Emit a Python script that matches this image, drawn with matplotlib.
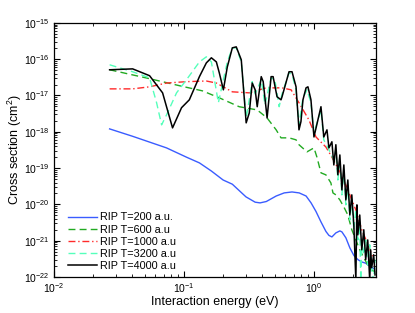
import matplotlib
matplotlib.use("Agg")
import matplotlib.pyplot as plt
from matplotlib.ticker import FixedLocator, LogLocator, NullFormatter

plt.rcParams['font.family'] = ['Liberation Sans', 'DejaVu Sans']
plt.rcParams['mathtext.fontset'] = 'custom'
plt.rcParams['mathtext.rm'] = 'Liberation Sans'
plt.rcParams['mathtext.it'] = 'Liberation Sans:italic'
plt.rcParams['mathtext.bf'] = 'Liberation Sans:bold'

# T = 200 a.u.
x200 = [0.0268, 0.0403, 0.0734, 0.1045, 0.1315, 0.1625, 0.200, 0.2355, 0.300, 0.353,
        0.385, 0.430, 0.512, 0.590, 0.678, 0.770, 0.870, 0.950, 1.036, 1.132, 1.236,
        1.303, 1.374, 1.474, 1.582, 1.640, 1.760, 1.890, 2.030, 2.180, 2.330, 2.500,
        2.690, 2.880]
y200 = [1.2e-18, 7.5e-19, 3.6e-19, 2.0e-19, 1.39e-19, 8.3e-20, 4.7e-20, 3.6e-20, 1.61e-20, 1.15e-20,
        1.1e-20, 1.2e-20, 1.7e-20, 2.07e-20, 2.2e-20, 2.07e-20, 1.7e-20, 1.1e-20, 6.4e-21, 3.3e-21, 1.8e-21,
        1.4e-21, 1.27e-21, 1.64e-21, 1.86e-21, 1.75e-21, 1.2e-21, 6.3e-22, 3.9e-22, 3.0e-22, 2.6e-22, 2.4e-22,
        2.0e-22, 1.7e-22]

# T = 600 a.u.
x600 = [0.0268, 0.0544, 0.0958, 0.1387, 0.187, 0.266, 0.366, 0.436, 0.512, 0.558,
        0.643, 0.728, 0.767, 0.884, 1.000, 1.054, 1.132, 1.236, 1.350, 1.400, 1.474,
        1.582, 1.698, 1.822, 1.955, 2.100, 2.250, 2.417, 2.592, 2.780, 2.950]
y600 = [5.1e-17, 2.9e-17, 1.8e-17, 1.34e-17, 8.6e-18, 4.9e-18, 4.0e-18, 2.4e-18, 1.13e-18, 6.8e-19,
        6.8e-19, 6.0e-19, 4.4e-19, 2.8e-19, 3.6e-19, 2.0e-19, 7.4e-20, 6.5e-20, 3.9e-20, 2.07e-20, 1.83e-20,
        1.33e-20, 8.5e-21, 5.1e-21, 2.0e-21, 1.05e-21, 5.6e-22, 3.4e-22, 2.15e-22, 1.57e-22, 1.38e-22]

# T = 1000 a.u.
x1000 = [0.0268, 0.0403, 0.0544, 0.0734, 0.1045, 0.1487, 0.1775, 0.2355, 0.318, 0.428,
         0.568, 0.667, 0.767, 0.916, 1.036, 1.151, 1.236, 1.374, 1.555, 1.759, 1.888,
         2.100, 2.333, 2.640, 2.880]
y1000 = [1.52e-17, 1.52e-17, 1.73e-17, 2.2e-17, 2.4e-17, 2.5e-17, 2.2e-17, 1.26e-17, 1.18e-17, 1.62e-17,
         1.62e-17, 1.43e-17, 6.3e-18, 2.1e-18, 7.2e-19, 4.9e-19, 3.8e-19, 2.0e-19, 8.9e-20, 3.4e-20, 1.83e-20,
         7.0e-21, 2.0e-21, 6.8e-22, 3.0e-22]

# T = 3200 a.u.
x3200 = [0.0268, 0.0403, 0.0544, 0.0616, 0.0673, 0.0734, 0.0877, 0.1045, 0.1315, 0.1487,
         0.1625, 0.184, 0.201, 0.2155, 0.2355, 0.2525, 0.276, 0.301, 0.318, 0.335,
         0.353, 0.393, 0.420, 0.468, 0.500, 0.540, 0.568, 0.643, 0.678, 0.728,
         0.767, 0.823, 0.884, 0.948, 1.000, 1.132, 1.190, 1.303, 1.422, 1.474,
         1.527, 1.582, 1.640, 1.698, 1.759, 1.822, 1.888, 1.955, 2.026, 2.100,
         2.175, 2.250, 2.290, 2.333, 2.417, 2.500, 2.592, 2.685, 2.780, 2.880, 2.950]
y3200 = [7.0e-17, 4.5e-17, 3.05e-17, 6.3e-18, 1.55e-18, 2.9e-18, 1.18e-17, 2.7e-17, 8.4e-17, 1.16e-16,
         8.4e-17, 6.3e-18, 2.7e-17, 8.4e-17, 2.05e-16, 2.05e-16, 8.4e-17, 2.4e-18, 7.6e-18, 2.4e-17,
         1.1e-17, 2.7e-17, 5.5e-18, 3.05e-17, 2.7e-17, 4.9e-18, 1.1e-17, 4.2e-17, 3.8e-17, 1.43e-17,
         1.55e-18, 8.6e-18, 1.43e-17, 6.3e-18, 9.3e-19, 4.0e-18, 6.0e-19, 3.2e-19, 1.68e-19, 3.2e-19,
         4.7e-20, 1.68e-19, 1.83e-20, 8.9e-20, 9.7e-21, 3.4e-20, 3.7e-21, 1.33e-20, 2.0e-21, 7.0e-21,
         1.05e-21, 2.7e-21, 8.0e-23, 1.05e-21, 4.1e-22, 1.05e-21, 2.15e-22, 7.7e-22, 1.57e-22, 8.0e-23, 3.0e-22]

# T = 4000 a.u.
x4000 = [0.0268, 0.0403, 0.0544, 0.0685, 0.0817, 0.0958, 0.110, 0.1315, 0.1487, 0.1625,
         0.1775, 0.187, 0.201, 0.2155, 0.2355, 0.2525, 0.276, 0.301, 0.318, 0.335,
         0.353, 0.366, 0.393, 0.407, 0.436, 0.468, 0.485, 0.520, 0.558, 0.568,
         0.643, 0.678, 0.728, 0.767, 0.794, 0.823, 0.869, 0.899, 0.948, 1.000,
         1.132, 1.190, 1.259, 1.303, 1.374, 1.422, 1.474, 1.527, 1.582, 1.640,
         1.698, 1.759, 1.822, 1.888, 1.955, 2.026, 2.100, 2.140, 2.175, 2.250,
         2.333, 2.417, 2.500, 2.592, 2.685, 2.730, 2.780, 2.880, 2.950]
y4000 = [5.1e-17, 5.4e-17, 3.5e-17, 1.18e-17, 1.28e-18, 4.6e-18, 7.6e-18, 3.3e-17, 7.9e-17, 1.09e-16,
         8.4e-17, 4.2e-17, 1.43e-17, 6.1e-17, 2.05e-16, 2.18e-16, 9.6e-17, 1.76e-18, 3.3e-18, 2.2e-17,
         1.43e-17, 4.9e-18, 3.3e-17, 2.4e-17, 2.4e-18, 3.3e-17, 3.3e-17, 9.2e-18, 7.6e-18, 9.2e-18,
         4.5e-17, 4.5e-17, 1.73e-17, 1.13e-18, 1.9e-18, 7.6e-18, 1.62e-17, 1.73e-17, 7.6e-18, 7.2e-19,
         4.9e-18, 7.2e-19, 1.13e-18, 3.6e-19, 5.3e-19, 1.22e-19, 4.4e-19, 6.5e-20, 2.3e-19, 2.5e-20,
         1.22e-19, 1.33e-20, 4.7e-20, 5.1e-21, 1.83e-20, 2.7e-21, 8.0e-23, 9.7e-21, 1.45e-21, 5.1e-21,
         5.6e-22, 2.0e-21, 3.0e-22, 1.05e-21, 8.0e-23, 5.6e-22, 1.8e-22, 4.1e-22, 1.14e-22]

labels = ["RIP T=200 a.u.", "RIP T=600 a.u", "RIP T=1000 a.u", "RIP T=3200 a.u", "RIP T=4000 a.u"]
yticks = [1e-22, 1e-21, 1e-20, 1e-19, 1e-18, 1e-17, 1e-16, 1e-15]
xticks = [1e-2, 1e-1, 1e0]

fig = plt.figure(figsize=(4.15, 3.13), dpi=100)
ax = fig.add_axes([0.130, 0.115, 0.776, 0.812])

ax.plot(x200, y200, color="#3a5cff", lw=1.0, ls="-", label=labels[0])
ax.plot(x600, y600, color="#22aa22", lw=1.0, ls=(0, (5, 3)), label=labels[1])
ax.plot(x1000, y1000, color="#ff2a2a", lw=1.0, ls=(0, (5, 2, 1, 2)), label=labels[2])
ax.plot(x3200, y3200, color="#55ffbb", lw=1.0, ls=(0, (5, 3)), label=labels[3])
ax.plot(x4000, y4000, color="black", lw=1.1, ls="-", label=labels[4])

ax.set_xscale("log")
ax.set_yscale("log")
ax.set_xlim(1e-2, 3.0)
ax.set_ylim(1e-22, 1e-15)
ax.yaxis.set_major_locator(FixedLocator(yticks))
ax.xaxis.set_major_locator(FixedLocator(xticks))
ax.yaxis.set_minor_locator(LogLocator(base=10, subs=range(2, 10), numticks=20))
ax.xaxis.set_minor_locator(LogLocator(base=10, subs=range(2, 10), numticks=20))
ax.yaxis.set_minor_formatter(NullFormatter())
ax.xaxis.set_minor_formatter(NullFormatter())
ax.tick_params(which="both", direction="in", top=True, right=True, labelsize=7.5)
ax.tick_params(which="major", length=4, pad=3)
ax.tick_params(which="minor", length=2)
for s in ax.spines.values():
    s.set_linewidth(0.9)

ax.set_xlabel("Interaction energy (eV)", fontsize=9)
ax.set_ylabel("Cross section (cm$^2$)", fontsize=9)
ax.xaxis.set_label_coords(0.5, -0.075)
ax.yaxis.set_label_coords(-0.093, 0.5)

ax.legend(loc="lower left", frameon=False, fontsize=7.8, handlelength=2.7,
          handletextpad=0.3, labelspacing=0.2, borderaxespad=0.15,
          bbox_to_anchor=(0.025, 0.0))

fig.savefig("out.png", dpi=100)
